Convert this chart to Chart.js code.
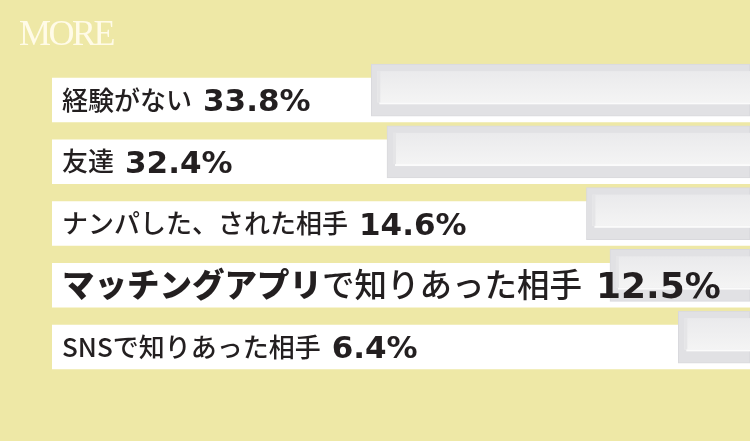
<!DOCTYPE html>
<html>
<head>
<meta charset="utf-8">
<script src="https://cdn.jsdelivr.net/npm/chart.js@4"></script>
<style>
  html, body { margin: 0; padding: 0; background: #eee8a6; }
  #wrap { position: relative; width: 750px; height: 441px; overflow: hidden; }
  #logo {
    position: absolute; left: 19px; top: 12px;
    font-family: "Liberation Serif", serif; font-size: 36px;
    letter-spacing: -2.5px; color: #fffbe8;
  }
</style>
</head>
<body>
<div id="wrap">
  <canvas id="myChart" width="750" height="441"></canvas>
  <div id="logo">MORE</div>
</div>
<script>
// data
const categories = [
    "経験がない",
    "友達",
    "ナンパした、された相手",
    "マッチングアプリで知りあった相手",
    "SNSで知りあった相手"
];
const values = [33.8, 32.4, 14.6, 12.5, 6.4];
const valueLabels = ["33.8%", "32.4%", "14.6%", "12.5%", "6.4%"];
const emphasis = ["", "", "", "マッチングアプリ", ""];

const axisMax = 62.3;          // left end of the white label strips
const highlightIndex = 3;      // row drawn with bigger text
const barShift = -0.16;        // grey bars sit a little above their strip

// grey bar faces
const barFaces = {
    id: "barFaces",
    afterDatasetsDraw(chart) {
        const ctx = chart.ctx;
        const area = chart.chartArea;
        ctx.save();
        ctx.beginPath();
        ctx.rect(area.left, area.top, area.right - area.left, area.bottom - area.top);
        ctx.clip();
        chart.getDatasetMeta(1).data.forEach(el => {
            const left = Math.min(el.x, el.base);
            const right = Math.max(el.x, el.base);
            const top = el.y - el.height / 2;
            const h = el.height;
            // inner light face
            const g = ctx.createLinearGradient(0, top + 7, 0, top + 7 + h * 0.6);
            g.addColorStop(0, "#eaeaec");
            g.addColorStop(1, "#f4f4f4");
            ctx.fillStyle = g;
            ctx.fillRect(left + 6, top + 7, right - left - 6, h * 0.6);
            // thin highlight under the face
            ctx.fillStyle = "#fbfbfb";
            ctx.fillRect(left + 8, top + 7 + h * 0.6, right - left - 8, 2);
            // left edge shade
            ctx.fillStyle = "#e5e5e7";
            ctx.fillRect(left + 6, top + 7, 3, h * 0.6);
        });
        ctx.restore();
    }
};

// labels drawn on the white strips
const rowLabels = {
    id: "rowLabels",
    afterDatasetsDraw(chart) {
        const ctx = chart.ctx;
        ctx.save();
        ctx.fillStyle = "#231f20";
        ctx.textBaseline = "alphabetic";
        chart.getDatasetMeta(0).data.forEach((el, i) => {
            const big = i === highlightIndex;
            const size = big ? 32.5 : 26;
            const pctSize = big ? 36 : 31;
            let x = Math.min(el.x, el.base) + 10;
            const textBase = el.y + size * 0.37;
            let rest = categories[i];
            const strong = emphasis[i];
            if (strong && rest.startsWith(strong)) {
                ctx.font = `900 ${size}px "Noto Sans CJK JP"`;
                ctx.fillText(strong, x, textBase);
                x += ctx.measureText(strong).width;
                rest = rest.slice(strong.length);
            }
            ctx.font = `500 ${size}px "Noto Sans CJK JP"`;
            ctx.fillText(rest, x, textBase);
            x += ctx.measureText(rest).width + (big ? 14 : 11);
            ctx.font = `bold ${pctSize}px "DejaVu Sans"`;
            ctx.fillText(valueLabels[i], x, el.y + pctSize * 0.365);
        });
        ctx.restore();
    }
};

// setup
const data = {
    datasets: [
        {
            label: "strip",
            data: categories.map((c, i) => ({ x: axisMax, y: i })),
            backgroundColor: "#ffffff",
            borderWidth: 0,
            barThickness: 44,
            grouped: false,
            order: 2
        },
        {
            label: "share",
            data: values.map((v, i) => ({ x: v, y: i + barShift })),
            backgroundColor: "#e1e1e4",
            borderColor: "#d9d9dd",
            borderWidth: 1,
            borderSkipped: false,
            barThickness: 52,
            grouped: false,
            order: 1
        }
    ]
};

// config
const config = {
    type: "bar",
    data,
    options: {
        indexAxis: "y",
        responsive: false,
        animation: false,
        layout: { padding: { left: 52, right: 0, top: 0, bottom: 0 } },
        plugins: {
            legend: { display: false },
            tooltip: { enabled: false }
        },
        scales: {
            x: {
                type: "linear",
                reverse: true,
                min: 0,
                max: axisMax,
                offset: false,
                display: false
            },
            y: {
                type: "linear",
                reverse: true,
                min: -1.619,
                max: 5.522,
                offset: false,
                display: false
            }
        }
    },
    plugins: [barFaces, rowLabels]
};

// render
window.myChart = new Chart(document.getElementById("myChart"), config);
</script>
</body>
</html>
